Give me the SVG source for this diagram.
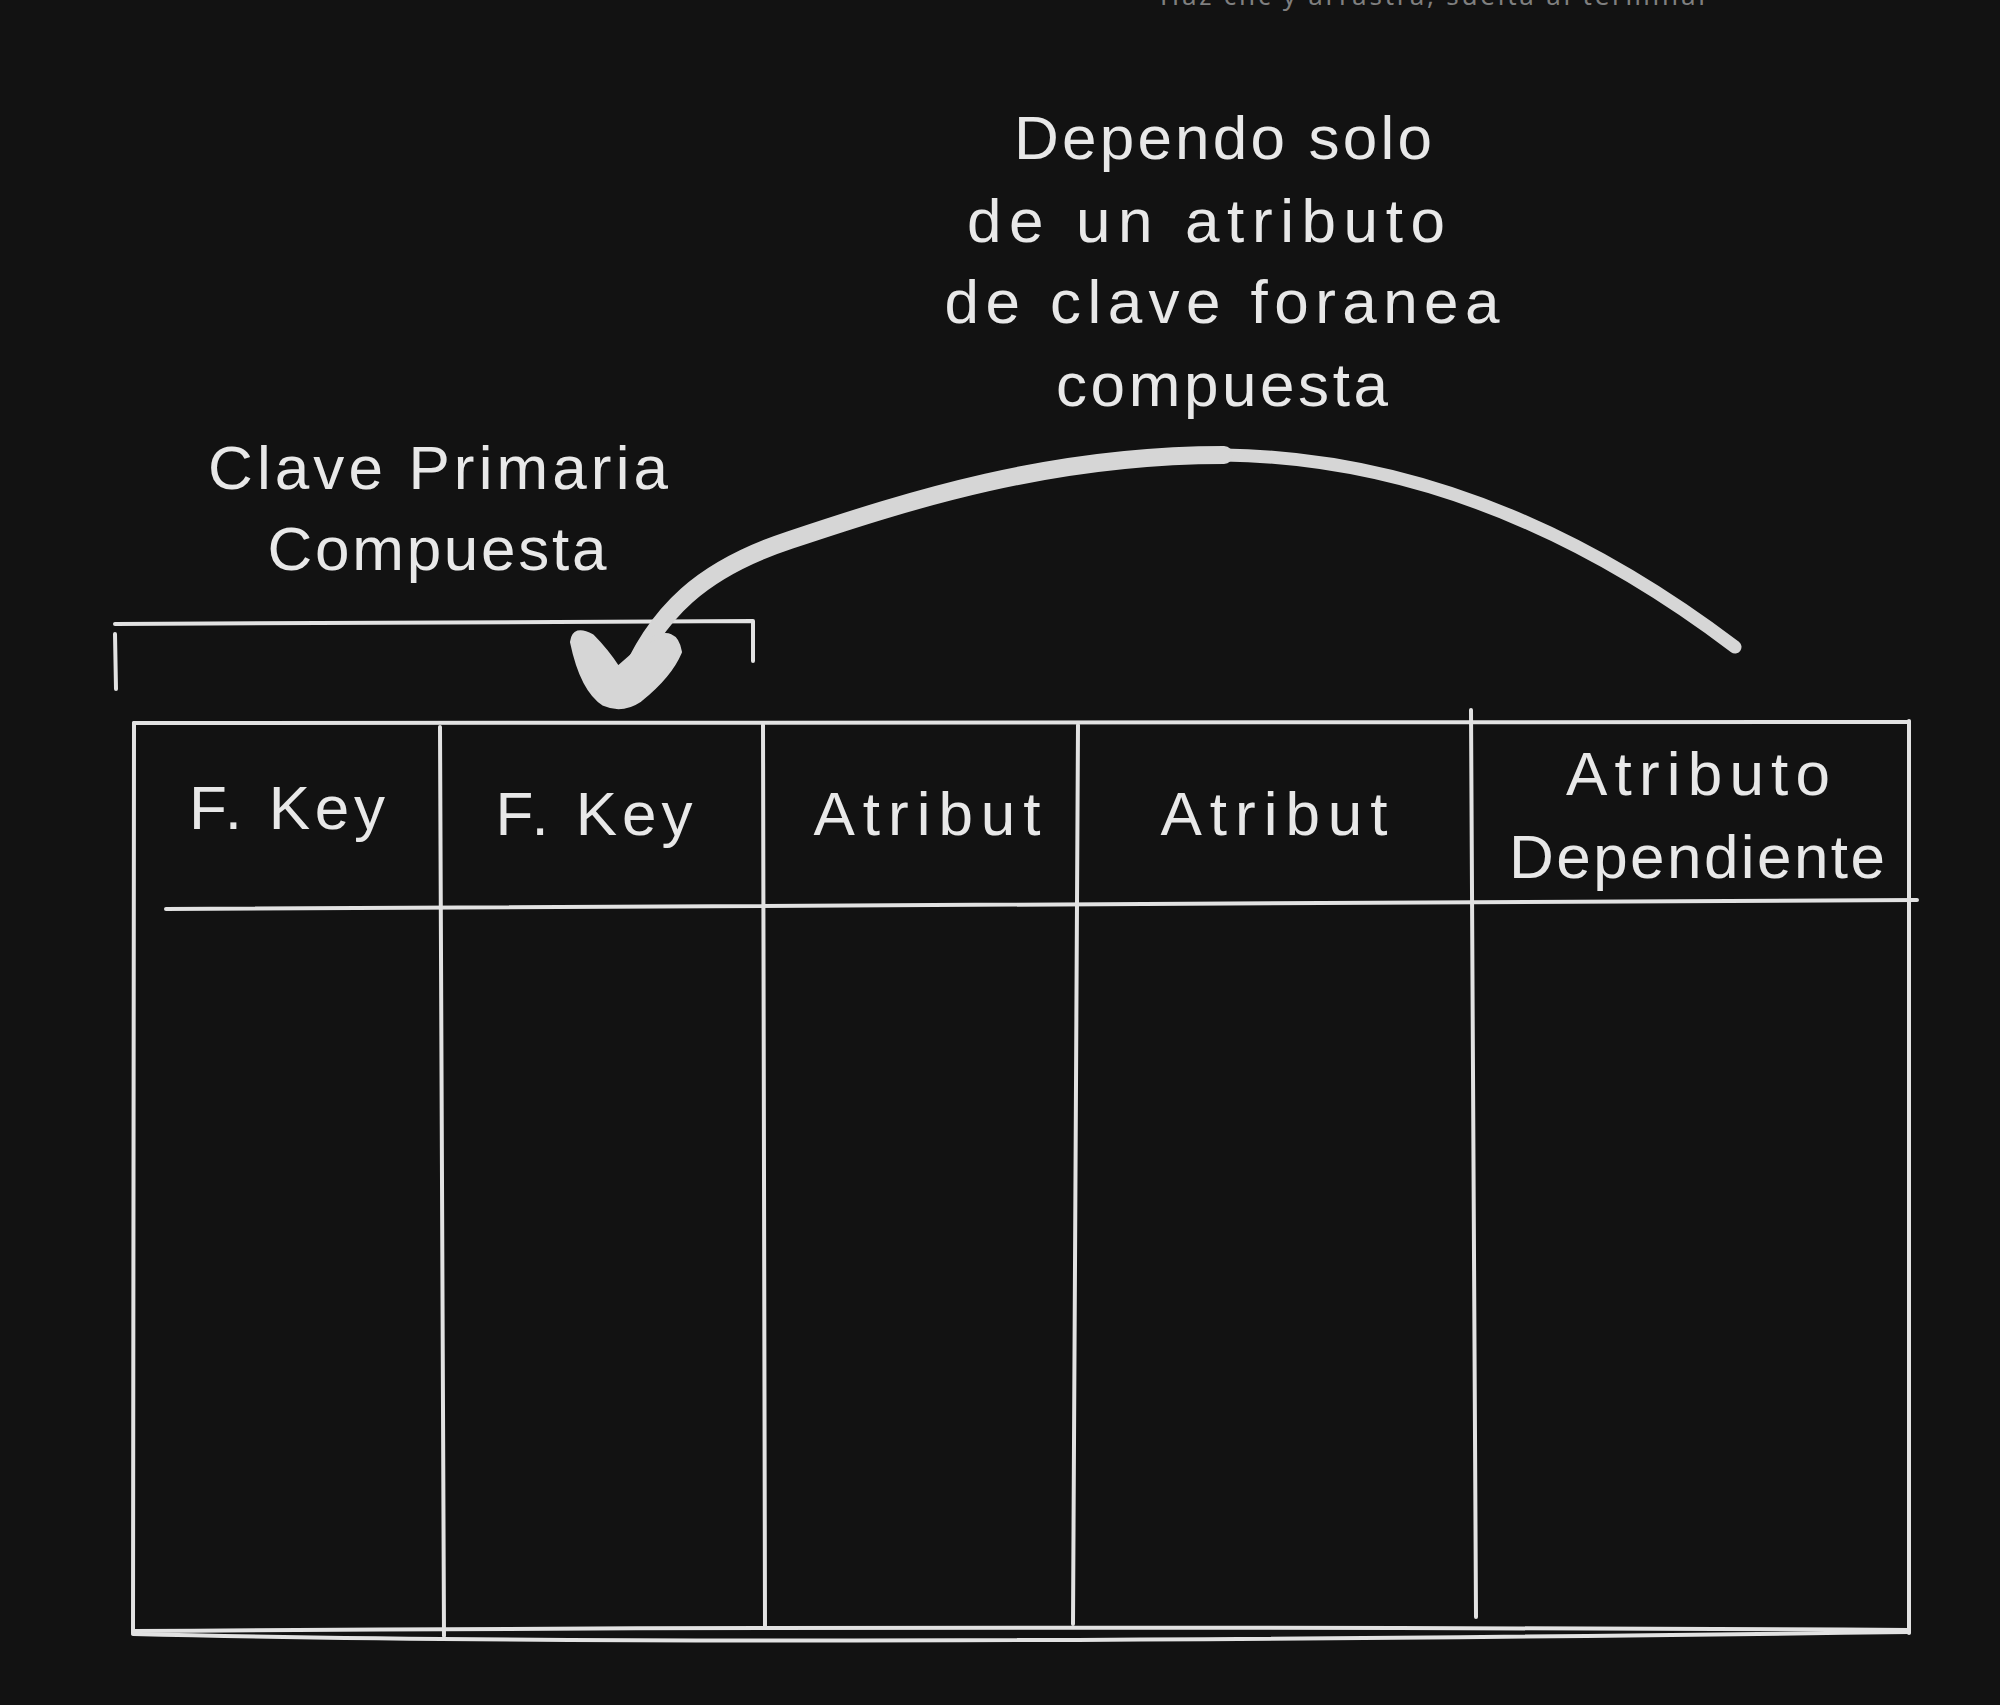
<svg xmlns="http://www.w3.org/2000/svg" width="2000" height="1705" viewBox="0 0 2000 1705">
<style>
.ln{fill:none;stroke:#e2e2e2;stroke-width:4;stroke-linecap:round;stroke-linejoin:round}
.t{font-family:"Liberation Sans","Open Sans",sans-serif;font-size:62px;fill:#e8e8e8;text-anchor:middle}
.hint{font-family:"Noto Sans","Open Sans",sans-serif;font-size:26px;fill:#7f7f7f}
.arr{fill:none;stroke:#d6d6d6;stroke-linecap:round;stroke-linejoin:round}
</style>
<rect x="0" y="0" width="2000" height="1705" fill="#121212"/>
<text class="hint" x="1160" y="5" textLength="549">Haz clic y arrastra, suelta al terminar</text>

<g id="label-clave-primaria">
<text class="t" x="438" y="489" textLength="460">Clave Primaria</text>
<text class="t" x="437" y="570" textLength="339">Compuesta</text>
</g>
<g id="bracket">
<path class="ln" d="M115,624 L753,621 M115,634 L116,689 M753,621 L753,661"/>
</g>
<g id="label-dependo">
<text class="t" x="1223" y="159" textLength="418">Dependo solo</text>
<text class="t" x="1206" y="242" textLength="478">de un atributo</text>
<text class="t" x="1222" y="323" textLength="555">de clave foranea</text>
<text class="t" x="1222" y="406" textLength="332">compuesta</text>
</g>

<g id="table">
<path class="ln" d="M134,723 L1909,722"/>
<path class="ln" d="M134,723 L133,1633"/>
<path class="ln" d="M1909,721 L1909,1633"/>
<path class="ln" d="M166,909 L1917,900"/>
<path class="ln" d="M133,1631 Q1000,1625 1909,1630"/>
<path class="ln" d="M133,1634 Q700,1648 1909,1632"/>
<path class="ln" d="M440,727 L444,1636"/>
<path class="ln" d="M763,725 L765,1626"/>
<path class="ln" d="M1078,725 L1073,1624"/>
<path class="ln" d="M1471,710 L1476,1617"/>
</g>
<g id="col-fkey-1"><text class="t" x="287" y="829" textLength="196">F. Key</text></g>
<g id="col-fkey-2"><text class="t" x="594" y="835" textLength="197">F. Key</text></g>
<g id="col-atribut-1"><text class="t" x="927" y="835" textLength="227">Atribut</text></g>
<g id="col-atribut-2"><text class="t" x="1274" y="835" textLength="227">Atribut</text></g>
<g id="col-atributo-dependiente">
<text class="t" x="1698" y="795" textLength="264">Atributo</text>
<text class="t" x="1697" y="878" textLength="376">Dependiente</text>
</g>

<g id="connectors">
<path class="arr" stroke-width="13" d="M1735,647 C1640,575 1460,458 1224,455"/>
<path class="arr" stroke-width="18" d="M1224,455 C1050,455 910,500 790,540 C705,568 655,610 624,690"/>
<path fill="#d6d6d6" stroke="#d6d6d6" stroke-width="4" stroke-linejoin="round" d="M572,642 Q574,626 592,636 Q606,650 618,668 L650,640 Q676,626 680,652 Q670,676 640,700 Q622,712 604,704 Q582,690 572,642 Z"/>
</g>
</svg>
